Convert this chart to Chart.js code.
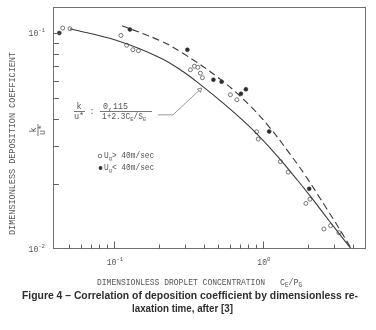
<!DOCTYPE html>
<html>
<head>
<meta charset="utf-8">
<script src="https://cdn.jsdelivr.net/npm/chart.js@4/dist/chart.umd.min.js"></script>
<style>
html,body{margin:0;padding:0;background:#fff;}
canvas{display:block;}
</style>
</head>
<body>
<canvas id="c" width="376" height="330"></canvas>
<script>
// ---- data ----
const solidC = [0.0507,0.1047,0.2035,0.2904,0.3956,0.5388,0.734,0.9115,1.3006,1.7178,2.0675,2.8167,3.96];
const solidK = [0.1047,0.0923,0.0769,0.0664,0.0565,0.0475,0.0394,0.0341,0.0261,0.0207,0.01765,0.01337,0.0099];
const dashC  = [0.1132,0.2035,0.2904,0.5306,0.8178,1.097,1.5178,1.9139,2.689,3.287,3.96];
const dashK  = [0.1081,0.0923,0.0806,0.0603,0.0461,0.0369,0.02756,0.02203,0.01532,0.01229,0.0099];
const openC  = [0.0453,0.0507,0.1114,0.1217,0.1341,0.146,0.326,0.347,0.366,0.3806,0.3926,0.605,0.669,0.907,0.930,1.31,1.478,2.068,1.944,2.567,2.847,3.236];
const openK  = [0.1054,0.1047,0.0975,0.0878,0.0837,0.0828,0.0676,0.0702,0.0694,0.0652,0.0621,0.0518,0.0491,0.0349,0.0323,0.0254,0.0227,0.0170,0.01626,0.01238,0.01283,0.0119];
const fillC  = [0.0430,0.128,0.3113,0.4654,0.528,0.712,0.769,1.102,2.045];
const fillK  = [0.100,0.1039,0.0837,0.0608,0.0595,0.0523,0.0549,0.0350,0.0190];
const leaderC = [0.1973,0.2489,0.3777];
const leaderK = [0.0418,0.0418,0.0546];
const xMajor = [0.1,1];
const xMinor = [0.05,0.06,0.07,0.08,0.09,0.2,0.3,0.4,0.5,0.6,0.7,0.8,0.9,2,3,4];
const yMajor = [0.1];
const yMinor = [0.02,0.03,0.04,0.05,0.06,0.07,0.08,0.09];
const xTickLabels = [["10","-1"],["10","0"]];
const yTickLabels = [["10","-1"],["10","-2"]];
const yTickVals = [0.1,0.01];
const xTitle = "DIMENSIONLESS DROPLET CONCENTRATION";
const yTitle = "DIMENSIONLESS DEPOSITION COEFFICIENT";
const legendOpen = "Ug> 40m/sec";
const legendFill = "Ug< 40m/sec";
const caption1 = "Figure 4 \u2013 Correlation of deposition coefficient by dimensionless re-";
const caption2 = "laxation time, after [3]";

const pts = (xs, ys) => xs.map((v,i)=>({x:v,y:ys[i]}));
const MONO = "'Liberation Mono', 'DejaVu Sans Mono', monospace";
const INK = '#555555';

function fitText(ctx, s, x, y, size, w, align, family, weight){
  ctx.save();
  ctx.font = (weight||'') + ' ' + size + 'px ' + (family||MONO);
  const m = ctx.measureText(s).width;
  const sx = w ? w/m : 1;
  ctx.translate(x, y);
  ctx.scale(sx, 1);
  ctx.textAlign = align || 'left';
  ctx.textBaseline = 'middle';
  ctx.fillText(s, 0, 0);
  ctx.restore();
}
// segs: [text, kind] kind 0 normal, 1 sub, 2 sup
function rich(ctx, segs, x, y, size, sx, align){
  ctx.save();
  ctx.textBaseline = 'middle';
  ctx.textAlign = 'left';
  const ws = segs.map(s=>{ ctx.font = (s[1]? size*0.7 : size)+'px '+MONO; return ctx.measureText(s[0]).width*sx; });
  const tot = ws.reduce((a,b)=>a+b,0);
  let cx = align==='right' ? x-tot : align==='center' ? x-tot/2 : x;
  segs.forEach((s,i)=>{
    ctx.font = (s[1]? size*0.7 : size)+'px '+MONO;
    const dy = s[1]===1 ? size*0.3 : s[1]===2 ? -size*0.4 : 0;
    ctx.save(); ctx.translate(cx, y+dy); ctx.scale(sx,1); ctx.fillText(s[0],0,0); ctx.restore();
    cx += ws[i];
  });
  ctx.restore();
}

const deco = {
  id:'deco',
  afterDraw(chart){
    const {ctx, chartArea:a, scales:{x, y}} = chart;
    ctx.save();
    ctx.strokeStyle = '#707070';
    ctx.lineWidth = 1;
    ctx.strokeRect(a.left+0.5, a.top+0.5, a.right-a.left-1, a.bottom-a.top-1);
    ctx.strokeStyle = '#606060';
    ctx.beginPath();
    xMinor.forEach(v=>{const p=Math.round(x.getPixelForValue(v))+0.5; ctx.moveTo(p,a.bottom); ctx.lineTo(p,a.bottom-4.5);});
    xMajor.forEach(v=>{const p=Math.round(x.getPixelForValue(v))+0.5; ctx.moveTo(p,a.bottom); ctx.lineTo(p,a.bottom-7.5);});
    yMinor.forEach(v=>{const p=Math.round(y.getPixelForValue(v))+0.5; ctx.moveTo(a.left,p); ctx.lineTo(a.left+6,p);});
    yMajor.forEach(v=>{const p=Math.round(y.getPixelForValue(v))+0.5; ctx.moveTo(a.left,p); ctx.lineTo(a.left+7,p);});
    ctx.stroke();

    ctx.fillStyle = INK;
    // tick labels
    xMajor.forEach((v,i)=>{ rich(ctx, [[xTickLabels[i][0],0],[xTickLabels[i][1],2]], x.getPixelForValue(v)+1, a.bottom+14, 8.5, 0.95, 'center'); });
    yTickVals.forEach((v,i)=>{ rich(ctx, [[yTickLabels[i][0],0],[yTickLabels[i][1],2]], a.left-8, y.getPixelForValue(v)+1, 8.5, 0.95, 'right'); });

    // axis titles
    fitText(ctx, xTitle, 97, 283, 9, 168);
    rich(ctx, [["C",0],["E",1],["/P",0],["G",1]], 280, 283, 9, 0.93, 'left');
    ctx.save();
    ctx.translate(13, 143.5); ctx.rotate(-Math.PI/2);
    fitText(ctx, yTitle, 0, 0, 9, 183, 'center');
    ctx.restore();
    // rotated k/u*
    ctx.save();
    ctx.translate(38, 130); ctx.rotate(-Math.PI/2);
    fitText(ctx, "k", 0, -4.5, 8.5, 0, 'center');
    fitText(ctx, "u*", 0, 4.8, 8.5, 0, 'center');
    ctx.strokeStyle = INK; ctx.lineWidth = 0.8;
    ctx.beginPath(); ctx.moveTo(-6,0); ctx.lineTo(6,0); ctx.stroke();
    ctx.restore();

    // equation
    fitText(ctx, "k", 79, 107, 8.5, 0, 'center');
    fitText(ctx, "u*", 79, 116.5, 8.5, 0, 'center');
    fitText(ctx, ":", 92, 112, 8.5, 0, 'center');
    fitText(ctx, "0,115", 103, 107, 8.5, 25, 'left');
    rich(ctx, [["1+2.3C",0],["E",1],["/S",0],["G",1]], 102, 116.5, 8.5, 0.92, 'left');
    ctx.strokeStyle = INK; ctx.lineWidth = 0.8;
    ctx.beginPath();
    ctx.moveTo(74,111.5); ctx.lineTo(85,111.5);
    ctx.moveTo(100,111.5); ctx.lineTo(152,111.5);
    ctx.stroke();

    // legend
    ctx.beginPath(); ctx.arc(100,156,1.8,0,Math.PI*2); ctx.fillStyle='#fff'; ctx.fill(); ctx.strokeStyle='#555'; ctx.lineWidth=0.8; ctx.stroke();
    ctx.beginPath(); ctx.arc(100.5,168,1.9,0,Math.PI*2); ctx.fillStyle='#333'; ctx.fill();
    ctx.fillStyle = INK;
    rich(ctx, [["U",0],["g",1],[legendOpen.slice(2),0]], 104, 156, 8.5, 0.92, 'left');
    rich(ctx, [["U",0],["g",1],[legendFill.slice(2),0]], 104, 168, 8.5, 0.92, 'left');

    // caption
    ctx.fillStyle = '#2e2e2e';
    fitText(ctx, caption1, 190, 296, 11.5, 336, 'center', "'Liberation Sans', Arial, sans-serif", 'bold');
    fitText(ctx, caption2, 182.5, 309, 11.5, 101, 'center', "'Liberation Sans', Arial, sans-serif", 'bold');
    ctx.restore();
  }
};

new Chart(document.getElementById('c'), {
  type:'scatter',
  data:{datasets:[
    {data:pts(leaderC,leaderK), showLine:true, borderColor:'#808080', borderWidth:0.8, pointRadius:[0,0,2.6], pointStyle:'triangle', rotation:47, pointBackgroundColor:'#fff', pointBorderColor:'#666', pointBorderWidth:0.8, tension:0},
    {data:pts(solidC,solidK), showLine:true, borderColor:'#3a3a3a', borderWidth:1.1, pointRadius:0, tension:0.4},
    {data:pts(dashC,dashK), showLine:true, borderColor:'#3a3a3a', borderWidth:1.1, borderDash:[7,4], pointRadius:0, tension:0.4},
    {data:pts(openC,openK), showLine:false, pointRadius:2, pointBackgroundColor:'#fff', pointBorderColor:'#555', pointBorderWidth:0.8},
    {data:pts(fillC,fillK), showLine:false, pointRadius:2, pointBackgroundColor:'#2e2e2e', pointBorderColor:'#2e2e2e', pointBorderWidth:0.5}
  ]},
  options:{
    responsive:false, animation:false, devicePixelRatio:1,
    layout:{padding:{left:53, right:10, top:7, bottom:81}},
    plugins:{legend:{display:false}, tooltip:{enabled:false}},
    scales:{
      x:{type:'logarithmic', min:0.039, max:4.92, display:false},
      y:{type:'logarithmic', min:0.01, max:0.132, display:false}
    }
  },
  plugins:[deco]
});
</script>
</body>
</html>
